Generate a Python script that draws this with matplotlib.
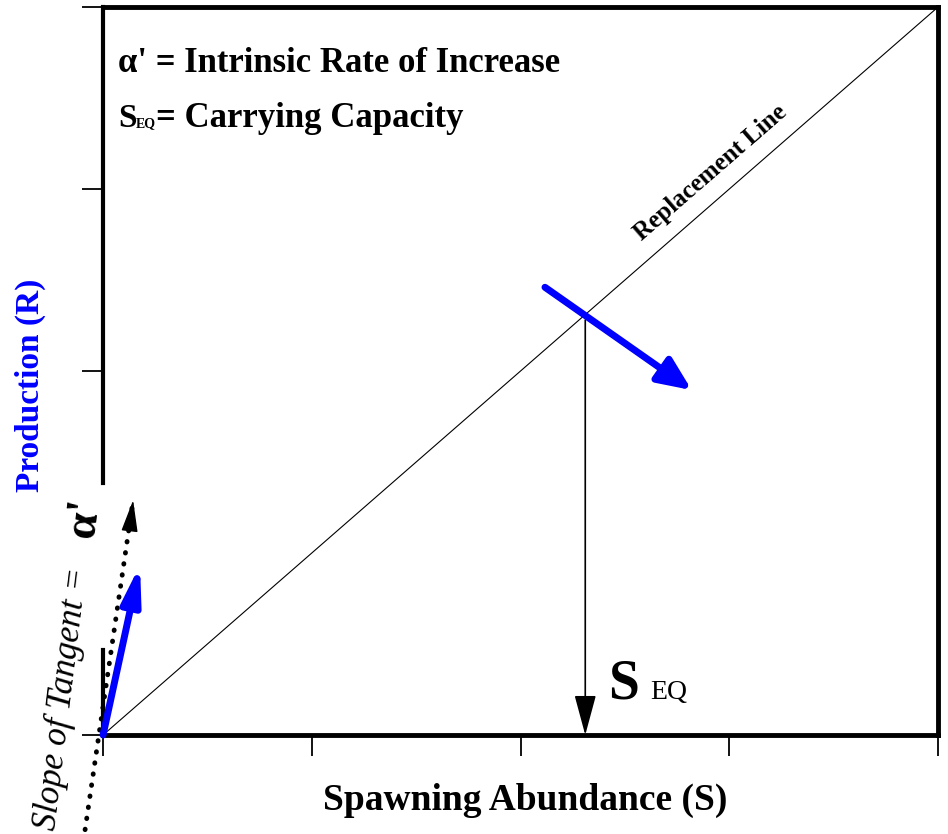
import matplotlib.pyplot as plt

plt.rcParams['font.family'] = ['Liberation Serif', 'DejaVu Serif']

# data values (axes run 0..4 on both sides)
replace_x = [0, 4]
replace_y = [0, 4]
s_eq = 2.31
tangent_origin = (0.0, 0.0)
tangent_tip = (0.177, 0.934)
dotted_x = [-0.086, 0.144]
dotted_y = [-0.52, 1.29]
blue_start = (2.117, 2.46)
blue_tip = (2.82, 1.895)
x_ticks = [0, 1, 2, 3, 4]
y_ticks = [0, 2, 3, 4]

fig = plt.figure(figsize=(9.48, 8.34), dpi=100)
ax = fig.add_axes([0.1087, 0.1187, 0.8808, 0.8729])
ax.set_xlim(0, 4)
ax.set_ylim(0, 4)

for side in ['top', 'right', 'bottom']:
    ax.spines[side].set_linewidth(3.5)
ax.spines['left'].set_visible(False)
# left spine is broken where the tangent label sits
ax.axvline(0, ymin=0, ymax=0.117, color='black', lw=3, clip_on=False)
ax.axvline(0, ymin=0.346, ymax=1, color='black', lw=3, clip_on=False)

ax.set_xticks(x_ticks)
ax.set_yticks(y_ticks)
ax.set_xticklabels([])
ax.set_yticklabels([])
ax.tick_params(direction='out', length=15, width=1.3)

# replacement line
ax.plot(replace_x, replace_y, color='black', lw=0.8)
ax.text(2.91, 3.09, 'Replacement Line', rotation=41, fontsize=18, fontweight='bold',
        ha='center', va='center')

# S_EQ drop line
ax.annotate('', xy=(s_eq, 0), xytext=(s_eq, s_eq - 0.03),
            arrowprops=dict(arrowstyle='-|>,head_length=0.63,head_width=0.17', color='black',
                            lw=1.2, mutation_scale=40, shrinkA=0, shrinkB=0))
ax.text(s_eq + 0.11, 0.2, 'S', fontsize=40, fontweight='bold', ha='left', va='baseline')
ax.text(s_eq + 0.31, 0.2, 'EQ', fontsize=20, ha='left', va='baseline')

# blue arrow at equilibrium
ax.annotate('', xy=blue_tip, xytext=blue_start,
            arrowprops=dict(arrowstyle='-|>,head_length=0.5,head_width=0.22', color='blue',
                            lw=5, mutation_scale=40, shrinkA=0, shrinkB=0))

# tangent at origin
ax.plot(dotted_x, dotted_y, color='black', lw=3.5, linestyle=(0, (0.1, 2.2)),
        dash_capstyle='round', clip_on=False)
ax.annotate('', xy=(dotted_x[1], dotted_y[1]), xytext=(dotted_x[1] - 0.01, dotted_y[1] - 0.1),
            annotation_clip=False,
            arrowprops=dict(arrowstyle='-|>,head_length=0.5,head_width=0.13', color='black',
                            lw=1, mutation_scale=40, shrinkA=0, shrinkB=0))
ax.annotate('', xy=tangent_tip, xytext=tangent_origin, annotation_clip=False,
            arrowprops=dict(arrowstyle='-|>,head_length=0.55,head_width=0.14', color='blue',
                            lw=5, mutation_scale=40, shrinkA=0, shrinkB=0))

# labels
ax.text(0.072, 3.69, "\u03b1' = Intrinsic Rate of Increase", fontsize=25, fontweight='bold',
        ha='left', va='center')
ax.text(0.072, 3.39, 'S', fontsize=24, fontweight='bold', ha='left', va='center')
ax.text(0.158, 3.36, 'EQ', fontsize=10, fontweight='bold', ha='left', va='center')
ax.text(0.255, 3.39, '= Carrying Capacity', fontsize=25, fontweight='bold', ha='left', va='center')

fig.text(0.554, 0.04, 'Spawning Abundance (S)', fontsize=27, fontweight='bold',
         ha='center', va='center')
fig.text(0.032, 0.538, 'Production (R)', fontsize=24, fontweight='bold', color='blue',
         rotation=90, ha='center', va='center')
fig.text(0.066, 0.162, 'Slope of Tangent =', fontsize=25, style='italic',
         rotation=83, ha='center', va='center')
fig.text(0.0897, 0.3785, "\u03b1'", fontsize=34, fontweight='bold',
         rotation=83, ha='center', va='center')

fig.savefig('out.png', dpi=100)
